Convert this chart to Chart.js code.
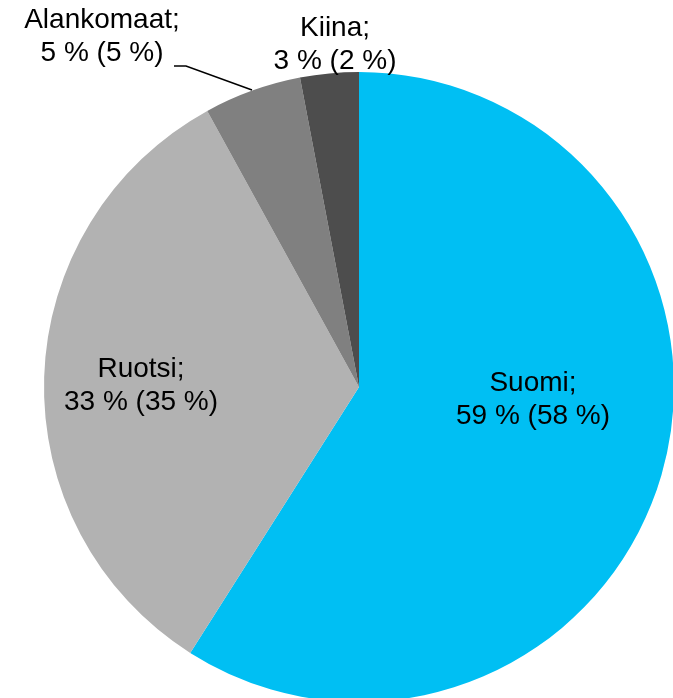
<!DOCTYPE html>
<html>
<head>
<meta charset="utf-8">
<script src="https://cdn.jsdelivr.net/npm/chart.js@4"></script>
<style>
  html, body { margin: 0; padding: 0; background: #fff; overflow: hidden; }
  #wrap { position: absolute; left: 0; top: 0; width: 720px; height: 760px; }
</style>
</head>
<body>
<div id="wrap"><canvas id="pie" width="720" height="760"></canvas></div>
<script>
// Pie: osuudet maittain, suluissa edellinen vuosi
const categories = ['Suomi', 'Ruotsi', 'Alankomaat', 'Kiina'];
const shares = [59, 33, 5, 3];
const prevShares = [58, 35, 5, 2];
const colors = ['#00BFF3', '#B2B2B2', '#808080', '#4D4D4D'];

// label centres (text only), leader line for Alankomaat
const labelPos = [[533, 399], [141, 385], [102, 36], [335, 44]];
const leader = [[174, 66], [186, 66], [252, 90]];

const labelPlugin = {
  id: 'labels',
  afterDatasetsDraw(chart) {
    const ctx = chart.ctx;
    ctx.save();
    ctx.fillStyle = '#000';
    ctx.font = '28px "Liberation Sans", Arial, sans-serif';
    ctx.textAlign = 'center';
    ctx.textBaseline = 'middle';
    categories.forEach(function(cat, i){
      let p = labelPos[i];
      ctx.fillText(cat + ';', p[0], p[1] - 16);
      ctx.fillText(shares[i] + ' % (' + prevShares[i] + ' %)', p[0], p[1] + 17);
    });
    ctx.strokeStyle = '#000';
    ctx.lineWidth = 1.5;
    ctx.beginPath();
    ctx.moveTo(leader[0][0], leader[0][1]);
    for (let k = 1; k < leader.length; k++) ctx.lineTo(leader[k][0], leader[k][1]);
    ctx.stroke();
    ctx.restore();
  }
};

var ctx = document.getElementById('pie').getContext('2d');
var chart1 = new Chart(ctx, {
  type: 'pie',
  data: {
    labels: categories,
    datasets: [{
      data: shares,
      backgroundColor: colors,
      borderWidth: 0
    }]
  },
  plugins: [labelPlugin],
  options: {
    responsive: false,
    animation: false,
    layout: { padding: { left: 44, top: 72, right: 46, bottom: 58 } },
    plugins: {
      legend: { display: false },
      tooltip: { enabled: false }
    }
  }
});
</script>
</body>
</html>
